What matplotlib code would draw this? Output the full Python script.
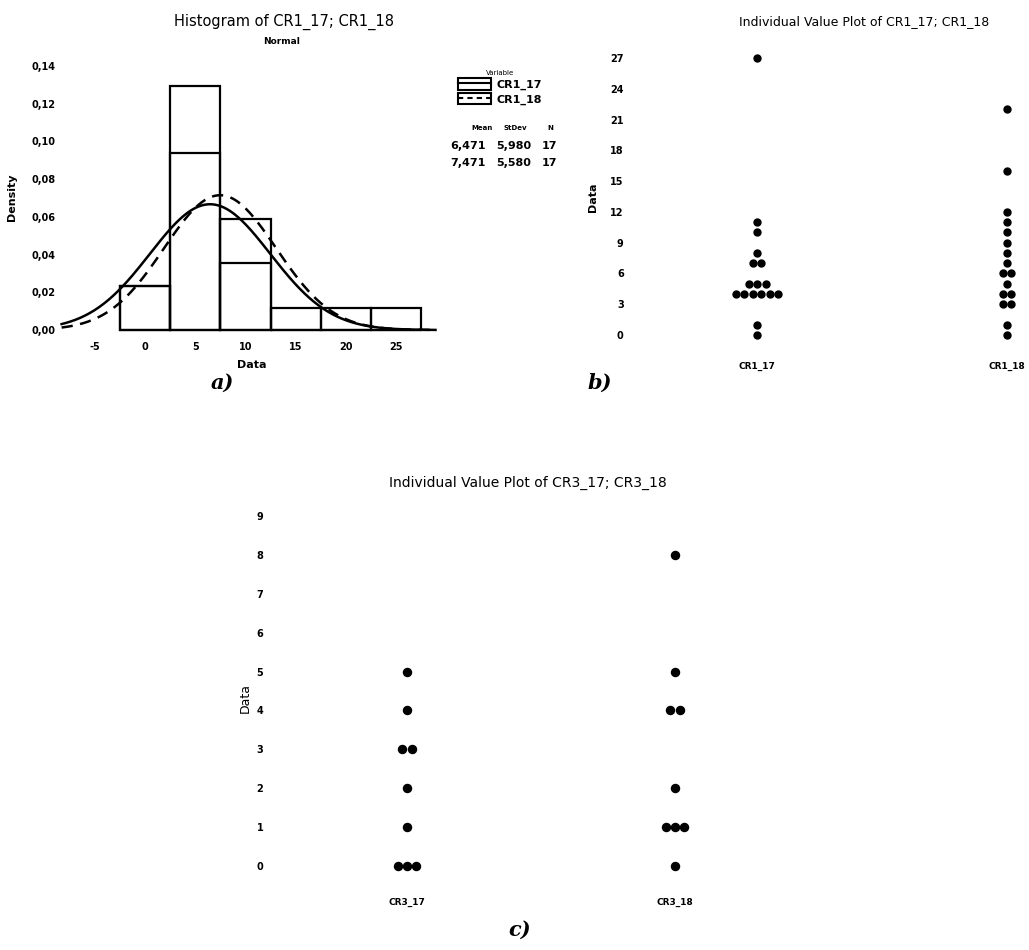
import numpy as np
import matplotlib
matplotlib.use("Agg")
import matplotlib.pyplot as plt
from matplotlib.patches import Rectangle
from matplotlib.lines import Line2D
from matplotlib.ticker import FuncFormatter

plt.rcParams["axes.unicode_minus"] = False

# ---------------- data ----------------
cr1_17 = [0, 1, 4, 4, 4, 4, 4, 4, 5, 5, 5, 7, 7, 8, 10, 11, 27]
cr1_18 = [0, 1, 3, 3, 4, 4, 5, 6, 6, 7, 8, 9, 10, 11, 12, 16, 22]
cr3_17 = [0, 0, 0, 1, 2, 3, 3, 4, 5]
cr3_18 = [0, 1, 1, 1, 2, 4, 4, 5, 8]
labels_b = ["CR1_17", "CR1_18"]
labels_c = ["CR3_17", "CR3_18"]
hist_ticks_x = [-5, 0, 5, 10, 15, 20, 25]
hist_ticks_y = [0.00, 0.02, 0.04, 0.06, 0.08, 0.10, 0.12, 0.14]
b_ticks_y = [0, 3, 6, 9, 12, 15, 18, 21, 24, 27]
c_ticks_y = [0, 1, 2, 3, 4, 5, 6, 7, 8, 9]

W, H = 1029, 950
fig = plt.figure(figsize=(W / 100, H / 100), dpi=100)
fig.patch.set_facecolor("white")


def px_axes(l, t, r, b):
    return fig.add_axes([l / W, 1 - b / H, (r - l) / W, (b - t) / H])


def ptxt(x, y, s, **kw):
    kw.setdefault("ha", "center")
    kw.setdefault("va", "center")
    fig.text(x / W, 1 - y / H, s, **kw)


def strip(ax):
    for sp in ax.spines.values():
        sp.set_visible(False)
    ax.tick_params(length=0, labelsize=7)
    for t in ax.get_xticklabels() + ax.get_yticklabels():
        t.set_fontweight("bold")


comma = lambda fmt: FuncFormatter(lambda v, p: (fmt % v).replace(".", ","))

# ---------------- panel a: histogram ----------------
ax = px_axes(59.6, 56.6, 436.5, 333.8)
ax.set_xlim(-8.5, 29)
ax.set_ylim(-0.002, 0.145)
edges = np.arange(-2.5, 28, 5)
for d in (cr1_17, cr1_18):
    ax.hist(d, bins=edges, density=True, histtype="bar", fill=False,
            edgecolor="black", linewidth=1.6)
xs = np.linspace(-8.3, 28.9, 400)
for d, ls in ((cr1_17, "-"), (cr1_18, (0, (4.5, 3)))):
    m, s = np.mean(d), np.std(d, ddof=1)
    ax.plot(xs, np.exp(-0.5 * ((xs - m) / s) ** 2) / (s * np.sqrt(2 * np.pi)),
            color="black", lw=1.8, linestyle=ls)
ax.set_xticks(hist_ticks_x)
ax.set_yticks(hist_ticks_y)
ax.yaxis.set_major_formatter(comma("%.2f"))
ax.tick_params(axis="x", pad=6)
ax.tick_params(axis="y", pad=3)
strip(ax)
ptxt(252, 365, "Data", fontsize=8, fontweight="bold")
ptxt(12, 197, "Density", fontsize=8, fontweight="bold", rotation=90)
ptxt(284, 22, "Histogram of CR1_17; CR1_18", fontsize=10.5)
ptxt(282, 42, "Normal", fontsize=6.5, fontweight="bold")

# legend
handles = [(Rectangle((0, 0), 1, 1, facecolor="white", edgecolor="black", lw=1.5),
            Line2D([0], [0], color="black", lw=1.5)),
           (Rectangle((0, 0), 1, 1, facecolor="white", edgecolor="black", lw=1.5),
            Line2D([0], [0], color="black", lw=1.5, linestyle=(0, (2.5, 2))))]
leg = fig.legend(handles, labels_b, title="Variable", loc="upper left",
                 bbox_to_anchor=(452 / W, 1 - 64 / H), frameon=False,
                 prop={"size": 8, "weight": "bold"}, title_fontsize=5,
                 handlelength=3.0, handleheight=1.2, handletextpad=0.5,
                 labelspacing=0.25, borderpad=0.0)
ptxt(482, 128, "Mean", fontsize=5, fontweight="bold")
ptxt(515, 128, "StDev", fontsize=5, fontweight="bold")
ptxt(550, 128, "N", fontsize=5, fontweight="bold")
for i, d in enumerate((cr1_17, cr1_18)):
    y = 146 + i * 17
    ptxt(468, y, ("%.3f" % np.mean(d)).replace(".", ","), fontsize=8, fontweight="bold")
    ptxt(514, y, ("%.3f" % np.std(d, ddof=1)).replace(".", ","), fontsize=8, fontweight="bold")
    ptxt(549, y, "%d" % len(d), fontsize=8, fontweight="bold")


# ---------------- dot plots ----------------
def dotplot(ax, groups, spacing, ms):
    for gi, vals in enumerate(groups):
        uniq, counts = np.unique(vals, return_counts=True)
        for v, c in zip(uniq, counts):
            offs = (np.arange(c) - (c - 1) / 2) * spacing
            ax.plot(gi + offs, [v] * c, "o", color="black", ms=ms, mec="black")


axb = px_axes(632, 42.6, 1132, 350.4)
dotplot(axb, [cr1_17, cr1_18], 0.034, 5)
axb.set_xlim(-0.5, 1.5)
axb.set_ylim(-1.5, 28.5)
axb.set_yticks(b_ticks_y)
axb.set_xticks([0, 1])
axb.set_xticklabels(labels_b)
axb.tick_params(axis="x", pad=8)
axb.tick_params(axis="y", pad=6)
strip(axb)
axb.tick_params(axis="x", labelsize=6.5)
ptxt(593, 197, "Data", fontsize=8, fontweight="bold", rotation=90)
ptxt(864, 22, "Individual Value Plot of CR1_17; CR1_18", fontsize=9)

axc = px_axes(273, 496.6, 809, 885.4)
dotplot(axc, [cr3_17, cr3_18], 0.034, 5.8)
axc.set_xlim(-0.5, 1.5)
axc.set_ylim(-0.5, 9.5)
axc.set_yticks(c_ticks_y)
axc.set_xticks([0, 1])
axc.set_xticklabels(labels_c)
axc.tick_params(axis="x", pad=9)
axc.tick_params(axis="y", pad=7)
strip(axc)
axc.tick_params(axis="x", labelsize=6.5)
ptxt(245, 698, "Data", fontsize=9, rotation=90)
ptxt(528, 483, "Individual Value Plot of CR3_17; CR3_18", fontsize=10)

# panel letters
for x, y, s in ((222, 383, "a)"), (600, 383, "b)"), (520, 930, "c)")):
    ptxt(x, y, s, fontsize=15, family="DejaVu Serif", style="italic", fontweight="bold")

fig.savefig("out.png", dpi=100, facecolor="white")
